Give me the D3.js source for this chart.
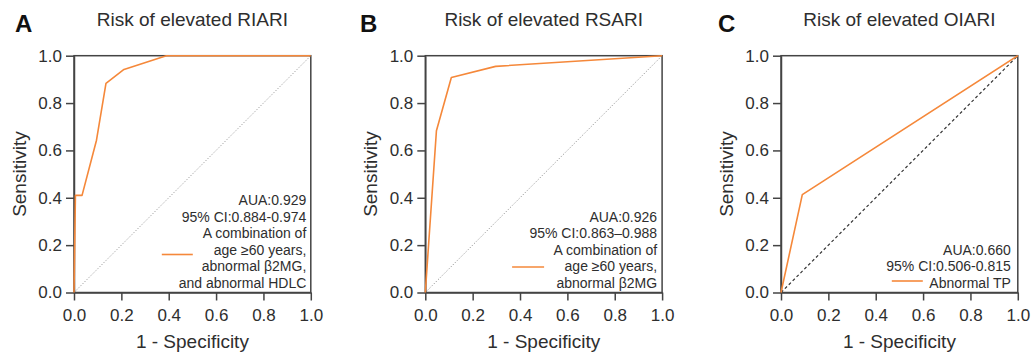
<!DOCTYPE html>
<html>
<head>
<meta charset="utf-8">
<script src="https://cdn.jsdelivr.net/npm/d3@7"></script>
<style>
	body { margin: 0; background: #fff; }
	svg { display: block; font-family: 'Liberation Sans', Arial, sans-serif; }
</style>
</head>
<body>
<div id="chart"></div>
<script>
// ---- data ----
const panelLetters = ['A', 'B', 'C'];
const panelTitles = ['Risk of elevated RIARI', 'Risk of elevated RSARI', 'Risk of elevated OIARI'];
const tickValues = [0, 0.2, 0.4, 0.6, 0.8, 1.0];
const xTitle = '1 - Specificity';
const yTitle = 'Sensitivity';

// 1 - specificity / sensitivity
const rocA_fpr = [0, 0.006, 0.034, 0.095, 0.135, 0.211, 0.39, 1];
const rocA_tpr = [0, 0.41, 0.41, 0.643, 0.883, 0.942, 1, 1];
const rocB_fpr = [0, 0.047, 0.110, 0.297, 1];
const rocB_tpr = [0, 0.683, 0.908, 0.955, 1];
const rocC_fpr = [0, 0.09, 1];
const rocC_tpr = [0, 0.413, 1];

const legendA = ['AUA:0.929', '95% CI:0.884-0.974', 'A combination of', 'age \u226560 years,', 'abnormal \u03b22MG,', 'and abnormal HDLC'];
const legendB = ['AUA:0.926', '95% CI:0.863\u20130.988', 'A combination of', 'age \u226560 years,', 'abnormal \u03b22MG'];
const legendC = ['AUA:0.660', '95% CI:0.506-0.815', 'Abnormal TP'];

// ---- layout ----
const W = 1031, H = 355;
const plotLeft = [74, 425.3, 781];
const plotTop = 55.7;
const plotSize = 236.8;
const letterX = [15, 360, 718];
const legendLineX = [[-149, -118], [-150, -118], [-126, -95]];
const legendLineY = [254.5, 267, 281];
const legendRightInset = [4.5, 5, 7];
const diagStyle = [
	{ color: '#8a8a8a', width: 0.9, dash: '1.2,1.8' },
	{ color: '#8a8a8a', width: 0.9, dash: '1.2,1.8' },
	{ color: '#333', width: 1.2, dash: '3,2.5' }
];

const orange = '#f5883a';
const axisColor = '#444';
const textColor = '#2e2e2e';

const curves = [
	rocA_fpr.map((d, i) => [d, rocA_tpr[i]]),
	rocB_fpr.map((d, i) => [d, rocB_tpr[i]]),
	rocC_fpr.map((d, i) => [d, rocC_tpr[i]])
];
const legends = [legendA, legendB, legendC];

const svg = d3.select('#chart').append('svg')
	.attr('width', W)
	.attr('height', H);

panelLetters.forEach((letter, p) => {
	const x0 = plotLeft[p];
	const x = d3.scaleLinear().domain([0, 1]).range([x0, x0 + plotSize]);
	const y = d3.scaleLinear().domain([0, 1]).range([plotTop + plotSize, plotTop]);
	const g = svg.append('g');

	// panel letter + title
	g.append('text')
		.attr('x', letterX[p])
		.attr('y', 32)
		.attr('font-size', 24)
		.attr('font-weight', 'bold')
		.attr('fill', '#111')
		.text(letter);

	g.append('text')
		.attr('x', x(0.5))
		.attr('y', 26)
		.attr('text-anchor', 'middle')
		.attr('font-size', 19)
		.attr('fill', textColor)
		.text(panelTitles[p]);

	// reference diagonal
	const ds = diagStyle[p];
	g.append('line')
		.attr('x1', x(0)).attr('y1', y(0))
		.attr('x2', x(1)).attr('y2', y(1))
		.attr('stroke', ds.color)
		.attr('stroke-width', ds.width)
		.attr('stroke-dasharray', ds.dash);

	// frame
	g.append('rect')
		.attr('x', x(0)).attr('y', y(1))
		.attr('width', x(1) - x(0))
		.attr('height', y(0) - y(1))
		.attr('fill', 'none')
		.attr('stroke', axisColor)
		.attr('stroke-width', 1.5);

	// axes
	const xAxis = g.append('g')
		.attr('transform', `translate(0,${y(0)})`)
		.call(d3.axisBottom(x).tickValues(tickValues).tickFormat(d3.format('.1f'))
			.tickSize(8).tickSizeOuter(0).tickPadding(8.5));
	const yAxis = g.append('g')
		.attr('transform', `translate(${x(0)},0)`)
		.call(d3.axisLeft(y).tickValues(tickValues).tickFormat(d3.format('.1f'))
			.tickSize(8).tickSizeOuter(0).tickPadding(4));

	[xAxis, yAxis].forEach(a => {
		a.select('.domain').attr('stroke', axisColor).attr('stroke-width', 1.5);
		a.selectAll('.tick line').attr('stroke', axisColor).attr('stroke-width', 1.5);
		a.selectAll('.tick text')
			.attr('fill', textColor)
			.attr('font-size', 17)
			.attr('font-family', "'Liberation Sans', Arial, sans-serif");
	});

	// axis titles
	g.append('text')
		.attr('x', x(0.5))
		.attr('y', 348)
		.attr('text-anchor', 'middle')
		.attr('font-size', 19)
		.attr('fill', textColor)
		.text(xTitle);

	g.append('text')
		.attr('transform', `translate(${x0 - 48},${y(0.5)}) rotate(-90)`)
		.attr('text-anchor', 'middle')
		.attr('font-size', 19)
		.attr('fill', textColor)
		.text(yTitle);

	// ROC curve
	const line = d3.line().x(d => x(d[0])).y(d => y(d[1]));
	g.append('path')
		.datum(curves[p])
		.attr('d', line)
		.attr('fill', 'none')
		.attr('stroke', orange)
		.attr('stroke-width', 1.6)
		.attr('stroke-linejoin', 'round');

	// legend
	const lines = legends[p];
	const right = x(1) - legendRightInset[p];
	const lastBase = y(0) - 4.5;
	const step = 16.6;
	g.selectAll('text.leg')
		.data(lines)
		.enter()
		.append('text')
		.attr('class', 'leg')
		.attr('x', right)
		.attr('y', (d, i) => lastBase - (lines.length - 1 - i) * step)
		.attr('text-anchor', 'end')
		.attr('font-size', 14)
		.attr('fill', textColor)
		.text(d => d);

	g.append('line')
		.attr('x1', x(1) + legendLineX[p][0])
		.attr('x2', x(1) + legendLineX[p][1])
		.attr('y1', legendLineY[p])
		.attr('y2', legendLineY[p])
		.attr('stroke', orange)
		.attr('stroke-width', 1.6);
});
</script>
</body>
</html>
